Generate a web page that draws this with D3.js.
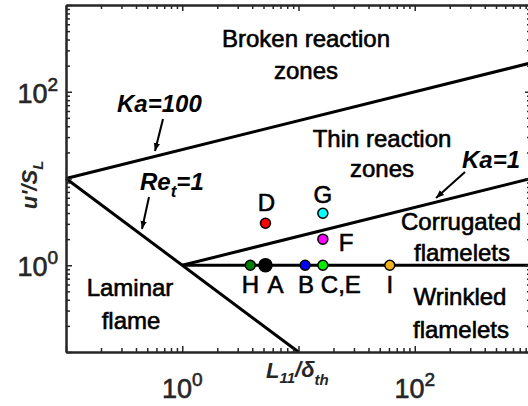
<!DOCTYPE html>
<html>
<head>
<meta charset="utf-8">
<script src="https://cdn.jsdelivr.net/npm/d3@7"></script>
<style>
  body { margin: 0; background: #fff; }
  svg { font-family: "Liberation Sans", Arial, Helvetica, sans-serif; }
  .heavy { stroke: currentColor; stroke-width: 0.6px; }
</style>
</head>
<body>
<div id="chart"></div>
<script>
const width = 528;
const height = 406;

// regime boundaries, [L11/delta_th, u'/S_L] end points
const ka100Line = [[0.1, 10], [1000, 215]];
const ka1Line = [[1, 1], [1000, 10]];
const reLine = [[0.1, 10], [10, 0.1]];
const unityLine = [[1, 1], [1000, 1]];

// cases
const caseNames = ["H", "A", "B", "C,E", "D", "F", "G", "I"];
const caseL = [3.85, 5.2, 11.4, 16.2, 5.2, 16.2, 16.2, 61];
const caseU = [1, 1, 1, 1, 3.05, 2.0, 3.97, 1];
const caseColors = ["#007f00", "#000000", "#0000ff", "#00ee00", "#ff0000", "#ff00ff", "#00ffff", "#edb120"];

// tick labels (base 10, exponent)
const xTickValues = [1, 100];
const xTickExp = ["0", "2"];
const yTickValues = [1, 100];
const yTickExp = ["0", "2"];

const x = d3.scaleLog().domain([0.1, 1000]).range([66, 531]);
const y = d3.scaleLog().domain([0.1, 1000]).range([352, 5]);

const svg = d3.select('#chart')
              .append('svg')
              .attr('width', width)
              .attr('height', height);

svg.append('defs').append('marker')
    .attr('id', 'arrow')
    .attr('viewBox', '0 0 10 10')
    .attr('refX', 10).attr('refY', 5)
    .attr('markerWidth', 4).attr('markerHeight', 4)
    .attr('markerUnits', 'strokeWidth')
    .attr('orient', 'auto')
  .append('path')
    .attr('d', 'M0,1 L10,5 L0,9 Z')
    .attr('fill', '#000');

const line = d3.line().x(d => x(d[0])).y(d => y(d[1]));

// boundary lines
[ka100Line, ka1Line, reLine, unityLine].forEach(pts => {
  svg.append('path')
      .attr('d', line(pts))
      .attr('fill', 'none')
      .attr('stroke', '#000')
      .attr('stroke-width', 3);
});

// axes box with inward ticks
const allTicks = x.ticks();
const isMajor = d => Math.abs(Math.log10(d) - Math.round(Math.log10(d))) < 1e-6;
const majorT = allTicks.filter(isMajor);
const minorT = allTicks.filter(d => !isMajor(d));

const axisG = svg.append('g').attr('class', 'axes');
const addAxis = (gen, tr, vals, len) => {
  const g = axisG.append('g')
      .attr('transform', tr)
      .call(gen.tickValues(vals).tickSize(-len).tickSizeOuter(0).tickFormat(''));
  g.select('.domain').attr('stroke', '#262626').attr('stroke-width', 2);
  g.selectAll('.tick line').attr('stroke', '#262626').attr('stroke-width', 1.5);
};
[[majorT, 6], [minorT, 4]].forEach(([vals, len]) => {
  addAxis(d3.axisBottom(x), 'translate(0,352)', vals, len);
  addAxis(d3.axisTop(x), 'translate(0,5)', vals, len);
  addAxis(d3.axisLeft(y), 'translate(66,0)', vals, len);
  addAxis(d3.axisRight(y), 'translate(531,0)', vals, len);
});

// tick labels
xTickValues.forEach((v, i) => {
  const t = svg.append('text')
      .attr('class', 'heavy')
      .attr('x', x(v)).attr('y', 398)
      .attr('text-anchor', 'middle')
      .attr('font-size', 27).attr('fill', '#262626').style('color', '#262626');
  t.append('tspan').text('10');
  t.append('tspan').attr('dy', -12).attr('font-size', 19).text(xTickExp[i]);
});
yTickValues.forEach((v, i) => {
  const t = svg.append('text')
      .attr('class', 'heavy')
      .attr('x', 58).attr('y', y(v) + 11)
      .attr('text-anchor', 'end')
      .attr('font-size', 27).attr('fill', '#262626').style('color', '#262626');
  t.append('tspan').text('10');
  t.append('tspan').attr('dy', -12).attr('font-size', 19).text(yTickExp[i]);
});

// axis titles
const xl = svg.append('text')
    .attr('x', 266).attr('y', 378)
    .attr('font-size', 22).attr('font-style', 'italic').attr('font-weight', 'bold')
    .attr('fill', '#262626');
xl.append('tspan').text('L');
xl.append('tspan').attr('dy', 5).attr('font-size', 15).text('11');
xl.append('tspan').attr('dy', -6).text('/δ');
xl.append('tspan').attr('dy', 8).attr('font-size', 15).text('th');

const yl = svg.append('text')
    .attr('transform', 'translate(37,185) rotate(-90)')
    .attr('text-anchor', 'middle')
    .attr('font-size', 22).attr('font-style', 'italic').attr('font-weight', 'bold')
    .attr('fill', '#262626');
yl.append('tspan').text("u'/S");
yl.append('tspan').attr('dy', 6).attr('font-size', 15).text('L');

// regime names
const regions = [
  ["Broken reaction", 306, 47], ["zones", 306, 79],
  ["Thin reaction", 382, 147], ["zones", 382, 177],
  ["Corrugated", 461, 230], ["flamelets", 462, 261],
  ["Wrinkled", 460, 305], ["flamelets", 461, 338],
  ["Laminar", 130, 296], ["flame", 131, 329]
];
svg.selectAll('.region')
    .data(regions)
    .enter()
    .append('text')
      .attr('class', 'region heavy')
      .attr('x', d => d[1])
      .attr('y', d => d[2])
      .attr('text-anchor', 'middle')
      .attr('font-size', 24)
      .style('color', '#000')
      .text(d => d[0]);

// boundary annotations
const note = (xp, yp, parts) => {
  const t = svg.append('text')
      .attr('x', xp).attr('y', yp)
      .attr('font-size', 24).attr('font-style', 'italic').attr('font-weight', 'bold');
  parts.forEach(p => {
    const s = t.append('tspan').text(p.t);
    if (p.dy) s.attr('dy', p.dy);
    if (p.fs) s.attr('font-size', p.fs);
  });
};
note(117, 112, [{t: 'Ka=100'}]);
note(140, 190, [{t: 'Re'}, {t: 't', dy: 7, fs: 17}, {t: '=1', dy: -7}]);
note(462, 168, [{t: 'Ka=1'}]);

const arrows = [[163, 119, 155, 151], [149, 197, 142, 229], [465, 172, 436, 198]];
arrows.forEach(a => {
  svg.append('line')
      .attr('x1', a[0]).attr('y1', a[1]).attr('x2', a[2]).attr('y2', a[3])
      .attr('stroke', '#000').attr('stroke-width', 2)
      .attr('marker-end', 'url(#arrow)');
});

// cases
const cases = caseNames.map((n, i) => ({name: n, L: caseL[i], u: caseU[i], color: caseColors[i]}));
svg.selectAll('.case')
    .data(cases)
    .enter()
    .append('circle')
      .attr('class', 'case')
      .attr('cx', d => x(d.L))
      .attr('cy', d => y(d.u))
      .attr('r', d => d.name === 'A' ? 6.5 : 5)
      .attr('fill', d => d.color)
      .attr('stroke', '#000')
      .attr('stroke-width', 1.5);

// case labels: offset from the marker
const labelOffset = {
  "H": [0, 28, 'middle'], "A": [10, 28, 'middle'], "B": [1, 28, 'middle'],
  "C,E": [-2, 28, 'start'], "I": [0, 28, 'middle'],
  "D": [1, -12, 'middle'], "G": [0, -10, 'middle'], "F": [16, 12, 'start']
};
svg.selectAll('.caseLabel')
    .data(cases)
    .enter()
    .append('text')
      .attr('class', 'caseLabel heavy')
      .attr('x', d => x(d.L) + labelOffset[d.name][0])
      .attr('y', d => y(d.u) + labelOffset[d.name][1])
      .attr('text-anchor', d => labelOffset[d.name][2])
      .attr('font-size', 24)
      .style('color', '#000')
      .text(d => d.name);
</script>
</body>
</html>
